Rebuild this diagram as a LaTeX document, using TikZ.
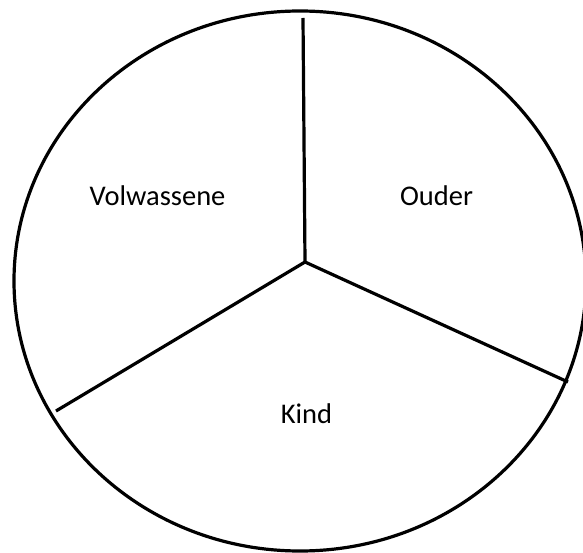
\documentclass[tikz,border=0pt]{standalone}
\usepackage{fontspec}
\setmainfont{Carlito}
\usetikzlibrary{positioning}

\begin{document}
\begin{tikzpicture}[
  x=1pt, y=-1pt,
  outline/.style={draw, line width=3.2pt},
  spoke/.style={draw, line width=3.2pt},
  label/.style={anchor=base, inner sep=0pt, font=\fontsize{28.5}{33}\selectfont},
]
\useasboundingbox (0,0) rectangle (583,553);
\clip (0,0) rectangle (583,553);

\draw[outline] (300,281) ellipse [x radius=286, y radius=270];

\coordinate (mid) at (305,262);
\coordinate (top) at (303,18);
\coordinate (right) at (568,382);
\coordinate (left) at (56,411);

\draw[spoke] (mid) -- (top);
\draw[spoke] (mid) -- (right);
\draw[spoke] (mid) -- (left);

\node[label] (volw) at (157.5,206) {Volwassene};
\node[label] (ouder) at (436.5,206) {Ouder};
\node[label] (kind) at (306.5,423) {Kind};
\end{tikzpicture}
\end{document}
